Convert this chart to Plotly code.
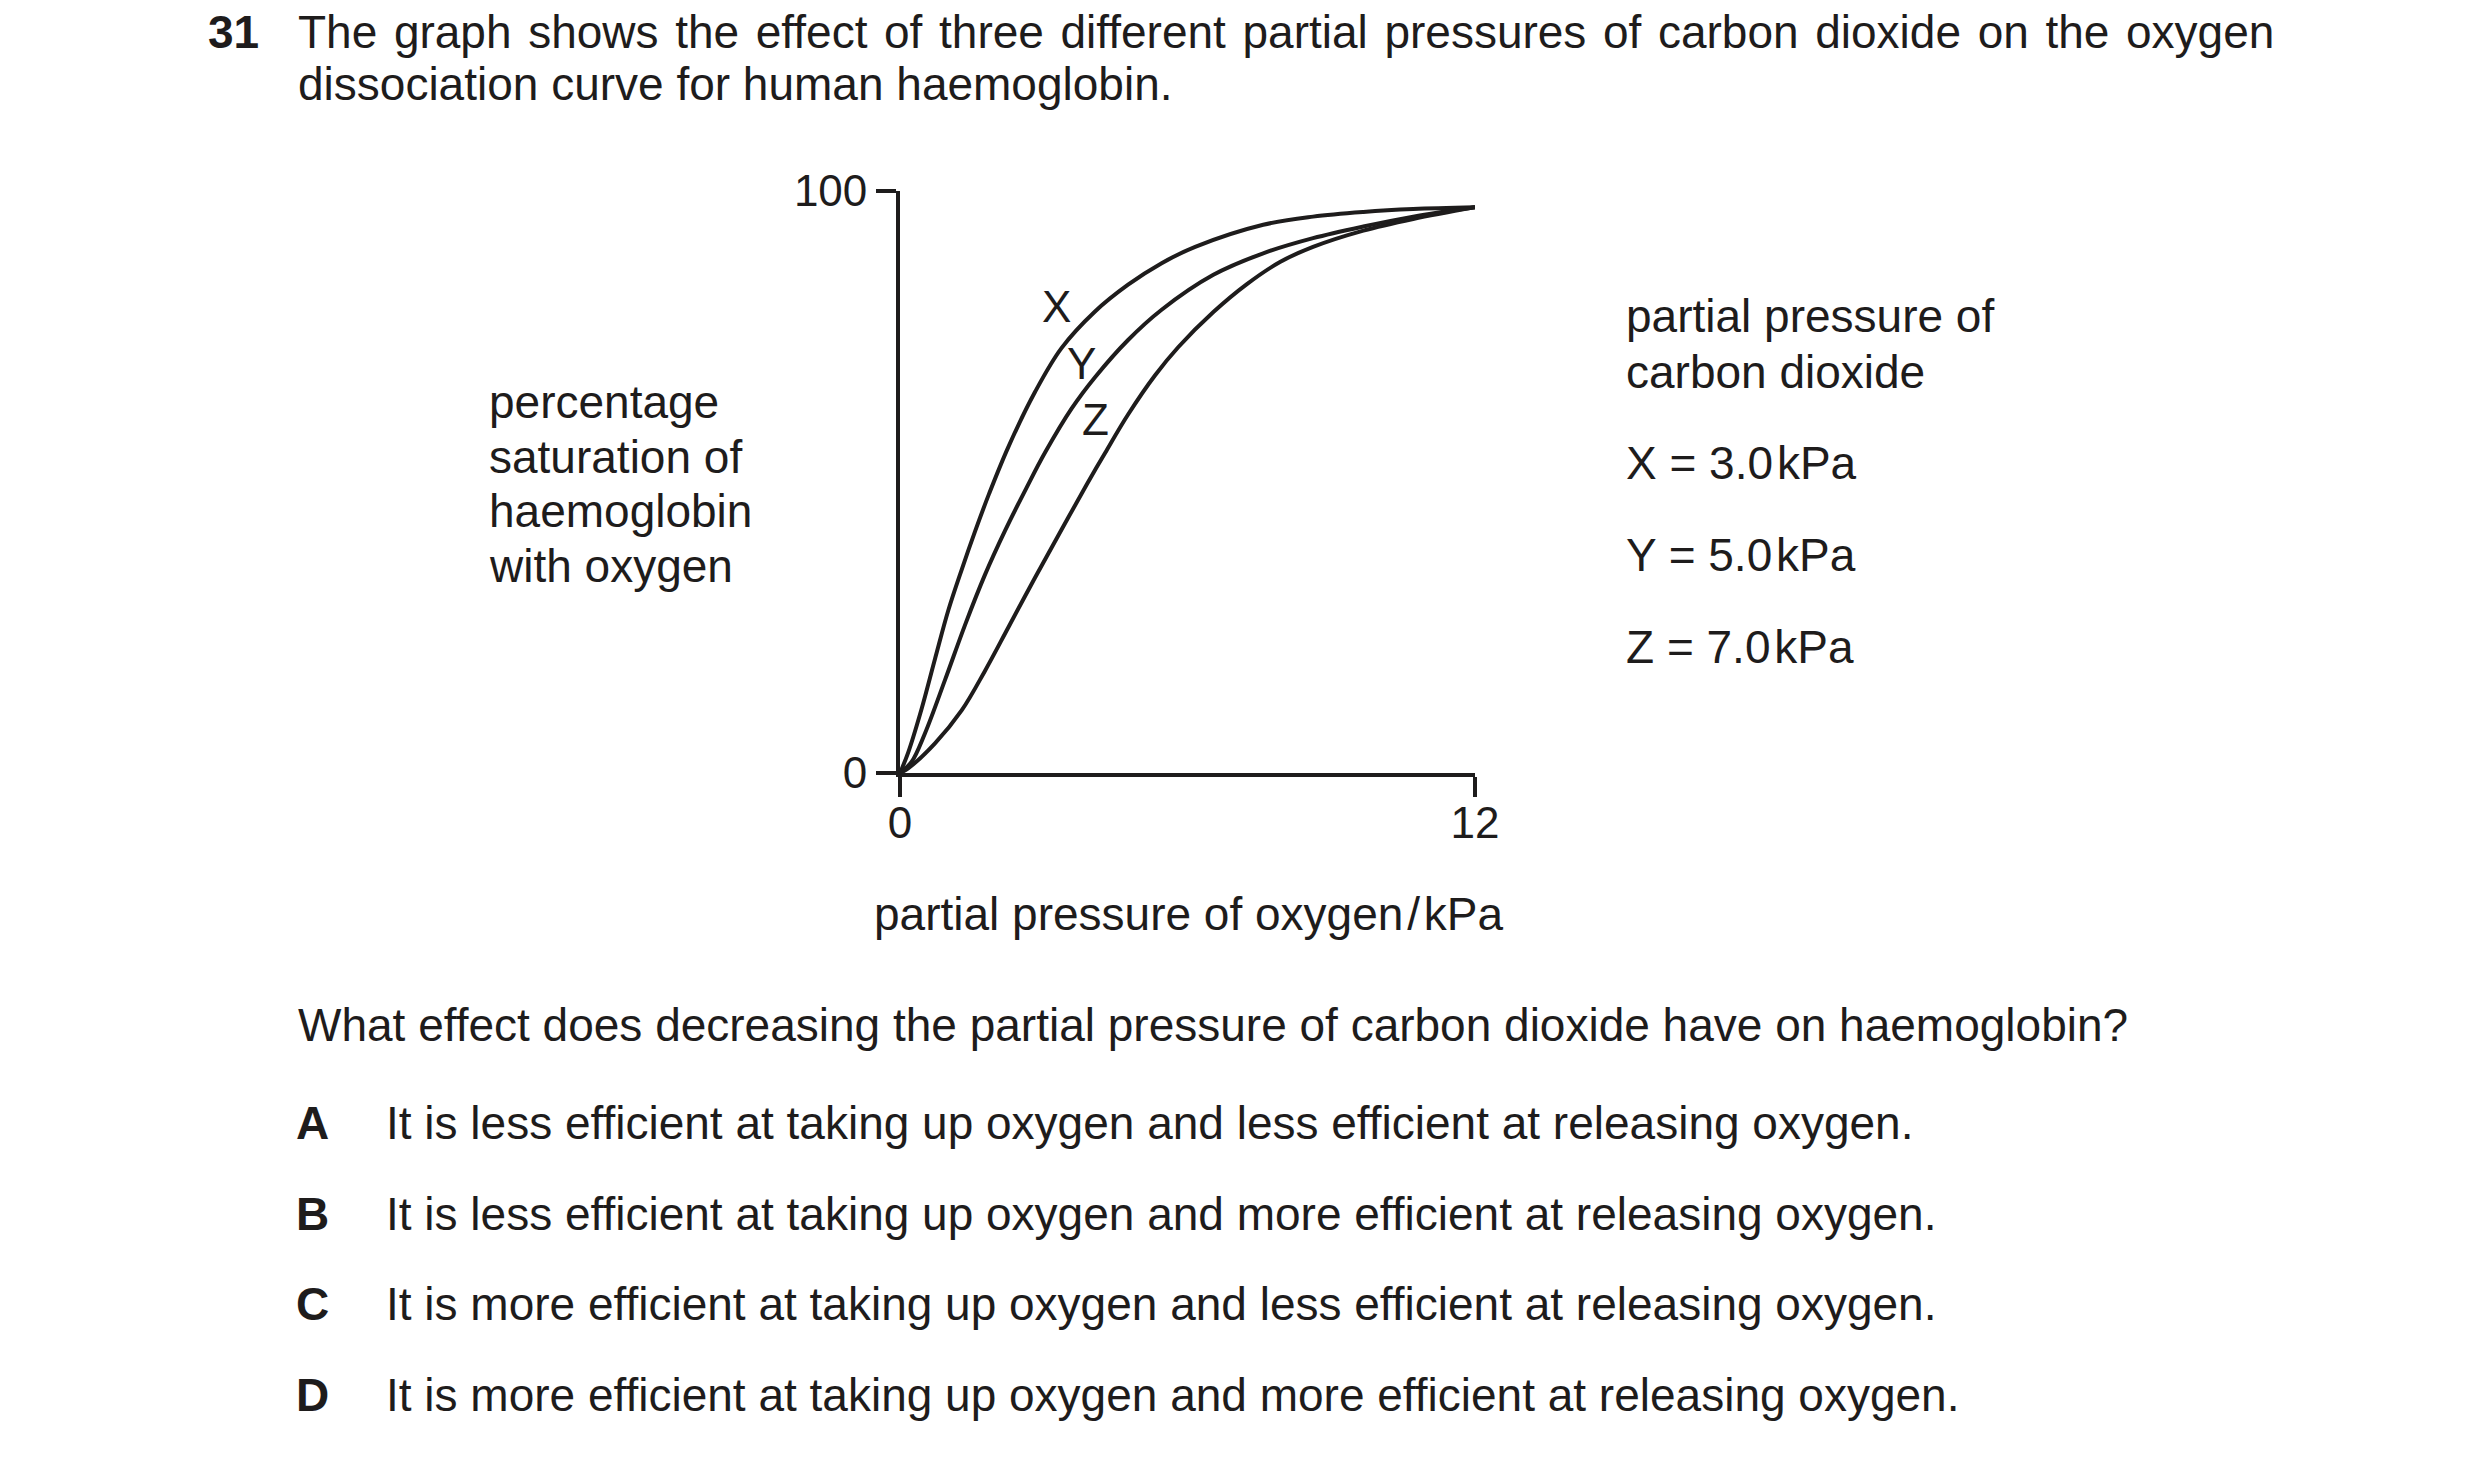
import plotly.graph_objects as go

# ---- data ----
x_X = [0, 0.17, 0.45, 0.73, 1.01, 1.29, 1.57, 1.86, 2.26, 2.82, 3.37, 4.07, 4.76, 5.46, 6.16,
       7.58, 8.62, 9.67, 10.71, 12]
y_X = [0, 3.5, 11.0, 19.6, 28.0, 35.0, 41.6, 48.0, 56.0, 65.5, 73.0, 79.3, 83.9, 87.6, 90.4,
       94.2, 95.6, 96.4, 96.9, 97.2]

x_Y = [0, 0.24, 0.52, 0.94, 1.36, 1.77, 2.19, 2.64, 3.03, 3.58, 4.07, 4.76, 5.46, 6.54,
       7.58, 8.62, 9.67, 10.71, 12]
y_Y = [0, 1.9, 6.8, 16.0, 25.5, 34.0, 41.6, 49.0, 55.1, 62.6, 68.0, 74.4, 79.6, 85.6,
       89.3, 91.9, 93.9, 95.6, 97.2]

x_Z = [0, 0.17, 0.73, 1.29, 1.77, 2.26, 2.82, 3.37, 3.90, 4.28, 4.76, 5.32, 5.81, 6.54, 7.24,
       7.93, 8.62, 9.67, 10.71, 12]
y_Z = [0, 0.8, 5.1, 10.8, 17.5, 25.0, 33.6, 41.8, 49.6, 55.0, 61.6, 68.3, 73.2, 79.2, 84.0,
       87.8, 90.4, 93.2, 95.2, 97.2]

curve_names = ["X", "Y", "Z"]
curve_label_pos = [(3.26, 80.2), (3.78, 70.3), (4.07, 60.7)]

x_tickvals = [0, 12]
y_tickvals = [0, 100]

HS = "\u200a"  # hair space
legend_title = ["partial pressure of", "carbon dioxide"]
legend_items = ["X = 3.0" + HS + "kPa", "Y = 5.0" + HS + "kPa", "Z = 7.0" + HS + "kPa"]
y_title_lines = ["percentage", "saturation of", "haemoglobin", "with oxygen"]
x_title = "partial pressure of oxygen" + HS + "/" + HS + "kPa"

q_num = "31"
q_lines = ["The graph shows the effect of three different partial pressures of carbon dioxide on the oxygen",
           "dissociation curve for human haemoglobin."]
question = "What effect does decreasing the partial pressure of carbon dioxide have on haemoglobin?"
opt_letters = ["A", "B", "C", "D"]
opt_texts = [
    "It is less efficient at taking up oxygen and less efficient at releasing oxygen.",
    "It is less efficient at taking up oxygen and more efficient at releasing oxygen.",
    "It is more efficient at taking up oxygen and less efficient at releasing oxygen.",
    "It is more efficient at taking up oxygen and more efficient at releasing oxygen.",
]

# ---- layout geometry (page body margin removed via post_script) ----
W, H = 2480, 1459
L, R, T, B = 900, 1475, 191, 773
INK = "#1e1c1c"
FONT = "Liberation Sans, Arial, sans-serif"
FS = 46
TFS = 44

def px(x):
    return (x - L) / (R - L)

def py(y):
    return (B - y) / (B - T)

fig = go.Figure()
for xs, ys, nm in zip([x_X, x_Y, x_Z], [y_X, y_Y, y_Z], curve_names):
    fig.add_trace(go.Scatter(x=xs, y=ys, mode="lines", name=nm,
                             line=dict(color=INK, width=4, shape="spline", smoothing=1.0),
                             hoverinfo="x+y+name", showlegend=False))

ann = []
def text(x, y, s, xanchor="left", size=FS, bold=False):
    if bold:
        s = "<b>" + s + "</b>"
    ann.append(dict(x=px(x), y=py(y), xref="paper", yref="paper", text=s, showarrow=False,
                    xanchor=xanchor, yanchor="middle", font=dict(size=size, color=INK, family=FONT)))

for nm, (cx, cy) in zip(curve_names, curve_label_pos):
    ann.append(dict(x=cx, y=cy, xref="x", yref="y", text=nm, showarrow=False,
                    xanchor="center", yanchor="middle", font=dict(size=TFS, color=INK, family=FONT)))

# header (first line justified in the original: widen word gaps slightly)
text(206, 32, q_num, bold=True)
text(296, 32, q_lines[0].replace(" ", " " + HS))
text(296, 84, q_lines[1])

# y title
for i, s in enumerate(y_title_lines):
    text(487, 402 + i * 54.7, s)

# x title
text(1188, 914, x_title, xanchor="center")

# legend text
text(1624, 316, legend_title[0])
text(1624, 372, legend_title[1])
for i, s in enumerate(legend_items):
    text(1624, 463 + i * 92, s)

# question and options
text(296, 1025, question)
for i, (l, s) in enumerate(zip(opt_letters, opt_texts)):
    yy = 1123 + i * 90.7
    text(312, yy, l, xanchor="center", bold=True)
    text(384, yy, s)

fig.update_layout(
    width=W, height=H,
    margin=dict(l=L, r=W - R, t=T, b=H - B, pad=0),
    paper_bgcolor="white", plot_bgcolor="white",
    font=dict(family=FONT, size=FS, color=INK),
    annotations=ann,
    xaxis=dict(range=[0, 12], tickvals=x_tickvals, ticktext=[str(v) for v in x_tickvals],
               showline=True, linecolor=INK, linewidth=3.8, ticks="outside", ticklen=20,
               tickwidth=3.8, tickcolor=INK, showgrid=False, zeroline=False,
               ticklabelstandoff=-12,
               tickfont=dict(size=TFS, color=INK, family=FONT), fixedrange=True),
    yaxis=dict(range=[0, 100], tickvals=y_tickvals, ticktext=[str(v) for v in y_tickvals],
               showline=True, linecolor=INK, linewidth=3.8, ticks="outside", ticklen=20,
               tickwidth=3.8, tickcolor=INK, showgrid=False, zeroline=False,
               tickfont=dict(size=TFS, color=INK, family=FONT), fixedrange=True),
)

fig.write_html("out.html", config={"displayModeBar": False},
               post_script="document.body.style.margin='0';document.body.style.overflow='hidden';")
